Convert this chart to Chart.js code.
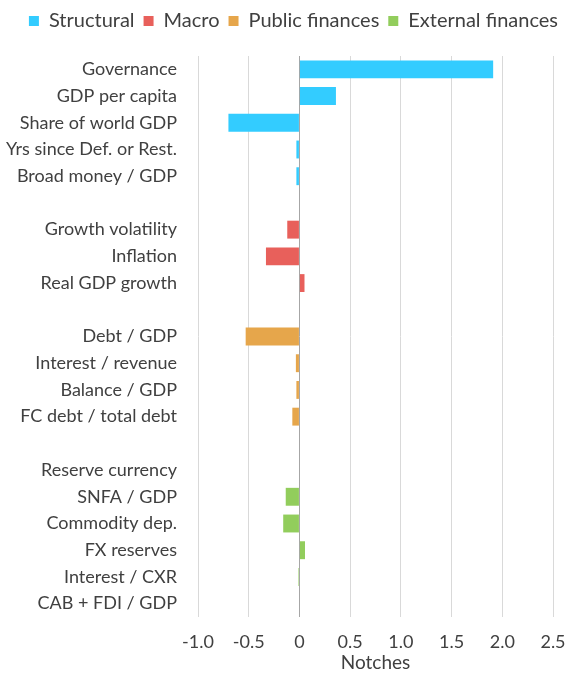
<!DOCTYPE html>
<html>
<head>
<meta charset="utf-8">
<script src="https://cdn.jsdelivr.net/npm/chart.js@4/dist/chart.umd.min.js"></script>
<style>
html,body{margin:0;padding:0;background:#fff;}
#wrap{width:567px;height:675px;position:relative;}
</style>
</head>
<body>
<div id="wrap"><canvas id="c"></canvas></div>
<script>
const categories = [
  "Governance","GDP per capita","Share of world GDP","Yrs since Def. or Rest.","Broad money / GDP",
  "",
  "Growth volatility","Inflation","Real GDP growth",
  " ",
  "Debt / GDP","Interest / revenue","Balance / GDP","FC debt / total debt",
  "  ",
  "Reserve currency","SNFA / GDP","Commodity dep.","FX reserves","Interest / CXR","CAB + FDI / GDP"
];
const structural = [1.91, 0.36, -0.70, -0.03, -0.03, null, null, null, null, null, null, null, null, null, null, null, null, null, null, null, null];
const macro      = [null, null, null, null, null, null, -0.12, -0.33, 0.05, null, null, null, null, null, null, null, null, null, null, null, null];
const publicFin  = [null, null, null, null, null, null, null, null, null, null, -0.53, -0.035, -0.03, -0.07, null, null, null, null, null, null, null];
const external   = [null, null, null, null, null, null, null, null, null, null, null, null, null, null, null, 0, -0.135, -0.16, 0.055, -0.01, 0];
const seriesNames = ["Structural","Macro","Public finances","External finances"];
const xTicks = [-1.0,-0.5,0,0.5,1.0,1.5,2.0,2.5];

const colors = ["#33CCFF","#E8605B","#E6A64B","#92CD5C"];
const font = "Lato, 'Open Sans', sans-serif";
const txt = "#404040";

const legendGap = {
  id: 'legendGap',
  beforeInit(chart) {
    const lg = chart.legend;
    if (!lg) return;
    const orig = lg.fit;
    lg.fit = function() { orig.apply(this, arguments); this.height += 15; };
  }
};

new Chart(document.getElementById('c'), {
  type: 'bar',
  data: {
    labels: categories,
    datasets: [structural, macro, publicFin, external].map((d,i)=>({
      label: seriesNames[i], data: d, backgroundColor: colors[i], borderWidth: 0
    }))
  },
  plugins: [legendGap],
  options: {
    indexAxis: 'y',
    responsive: true,
    maintainAspectRatio: false,
    animation: false,
    datasets: { bar: { grouped: false, categoryPercentage: 1, barPercentage: 0.67 } },
    layout: { padding: { left: 0, right: 0, top: 2, bottom: 0 } },
    plugins: {
      tooltip: { enabled: false },
      legend: {
        position: 'top',
        align: 'end',
        labels: {
          font: { family: font, size: 20 }, color: txt,
          boxWidth: 10, boxHeight: 10, padding: 9
        }
      }
    },
    scales: {
      x: {
        min: -1.0, max: 2.5,
        afterBuildTicks: (ax) => { ax.ticks = xTicks.map(v => ({ value: v })); },
        afterFit: (s) => { s.height = 58; s.paddingLeft = 0; s.paddingRight = 14; },
        grid: {
          color: (ctx) => (ctx.tick && ctx.tick.value === 0) ? '#a6a6a6' : '#d9d9d9',
          lineWidth: 1, drawTicks: false
        },
        border: { display: false },
        ticks: {
          font: { family: font, size: 18 }, color: txt, padding: 14,
          callback: (v) => v === 0 ? '0' : Number(v).toFixed(1)
        },
        title: { display: true, text: 'Notches', font: { family: font, size: 19 }, color: txt, padding: { top: 0, bottom: 1 } }
      },
      y: {
        afterFit: (s) => { s.width = 198; },
        grid: { display: false, drawTicks: false },
        border: { display: false },
        ticks: { font: { family: font, size: 18 }, color: txt, padding: 21, autoSkip: false }
      }
    }
  }
});
</script>
</body>
</html>
